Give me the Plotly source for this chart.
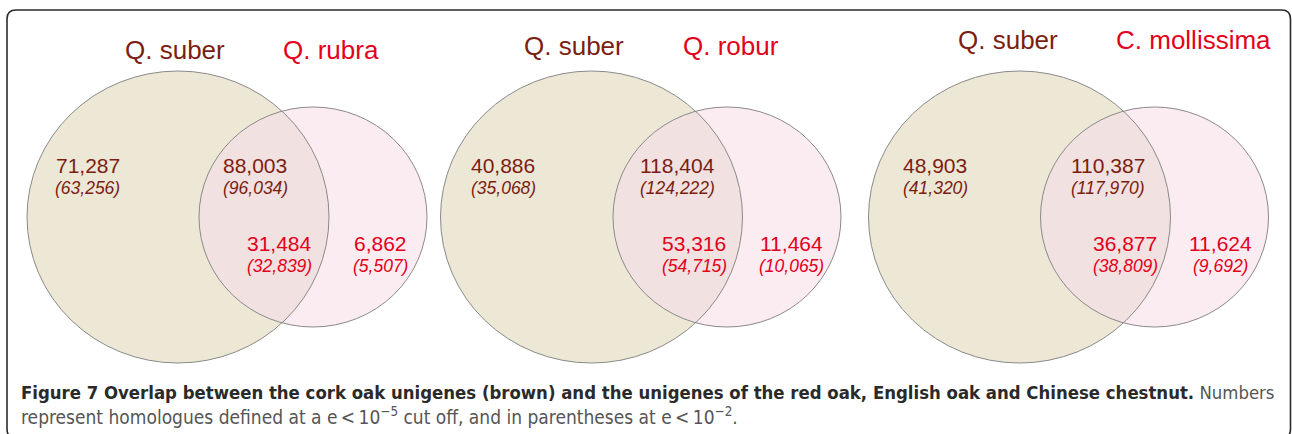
import numpy as np
import plotly.graph_objects as go

# ---------------- data ----------------
set_a_names = ["Q. suber", "Q. suber", "Q. suber"]
set_b_names = ["Q. rubra", "Q. robur", "C. mollissima"]
a_only = [71287, 40886, 48903]
a_only_e2 = [63256, 35068, 41320]
shared_a = [88003, 118404, 110387]
shared_a_e2 = [96034, 124222, 117970]
shared_b = [31484, 53316, 36877]
shared_b_e2 = [32839, 54715, 38809]
b_only = [6862, 11464, 11624]
b_only_e2 = [5507, 10065, 9692]

# ---------------- layout geometry (pixels) ----------------
W, H = 1292, 434
big_cx = [178, 591.5, 1019.5]
small_cx = [313, 727, 1154.5]
cy = 217
big_r = (151, 146)
small_r = (114, 110)
title_a_x = [175, 574, 1007.5]
title_b_x = [331, 731, 1193]
title_y = [50, 46, 40]
a_only_x = [87.5, 503, 935]
shared_a_x = [255, 677, 1108]
shared_b_x = [279, 694, 1125]
b_only_x = [380, 791, 1220]
row1_y, row1p_y = 165, 188
row2_y, row2p_y = 243, 266

BROWN = "#7b1e12"
RED = "#e3001b"
BEIGE = "#ede7d6"
PINK = "#fbecf2"
LENS = "#f1e1e0"
EDGE = "#8a8a8a"
FONT = "Arial, Liberation Sans, sans-serif"

fig = go.Figure()
fig.add_trace(go.Scatter(x=[0, W], y=[0, H], mode="markers",
                         marker=dict(opacity=0), hoverinfo="skip", showlegend=False))

shapes = []
annotations = []


def fmt(v):
    return f"{v:,}"


def ellipse_pts(cx, rx, ry, n=400):
    t = np.linspace(0, 2 * np.pi, n, endpoint=False)
    return cx + rx * np.cos(t), cy + ry * np.sin(t)


for i in range(3):
    bx, sx = big_cx[i], small_cx[i]
    # fills
    shapes.append(dict(type="circle", xref="x", yref="y",
                       x0=bx - big_r[0], x1=bx + big_r[0], y0=cy - big_r[1], y1=cy + big_r[1],
                       fillcolor=BEIGE, line=dict(width=0), layer="below"))
    shapes.append(dict(type="circle", xref="x", yref="y",
                       x0=sx - small_r[0], x1=sx + small_r[0], y0=cy - small_r[1], y1=cy + small_r[1],
                       fillcolor=PINK, line=dict(width=0), layer="below"))
    # lens (intersection)
    x1, y1 = ellipse_pts(bx, *big_r)
    x2, y2 = ellipse_pts(sx, *small_r)
    in2 = ((x1 - sx) / small_r[0]) ** 2 + ((y1 - cy) / small_r[1]) ** 2 <= 1
    in1 = ((x2 - bx) / big_r[0]) ** 2 + ((y2 - cy) / big_r[1]) ** 2 <= 1
    px = np.concatenate([x1[in2], x2[in1]])
    py = np.concatenate([y1[in2], y2[in1]])
    mx, my = px.mean(), py.mean()
    order = np.argsort(np.arctan2(py - my, px - mx))
    px, py = px[order], py[order]
    path = "M " + " L ".join(f"{a:.2f},{b:.2f}" for a, b in zip(px, py)) + " Z"
    shapes.append(dict(type="path", xref="x", yref="y", path=path,
                       fillcolor=LENS, line=dict(width=0), layer="below"))
    # outlines
    for (cx_, r_) in ((bx, big_r), (sx, small_r)):
        shapes.append(dict(type="circle", xref="x", yref="y",
                           x0=cx_ - r_[0], x1=cx_ + r_[0], y0=cy - r_[1], y1=cy + r_[1],
                           fillcolor="rgba(0,0,0,0)", line=dict(color=EDGE, width=1), layer="above"))

    # titles
    annotations.append(dict(x=title_a_x[i], y=title_y[i], text=set_a_names[i],
                            font=dict(family=FONT, size=26, color=BROWN)))
    annotations.append(dict(x=title_b_x[i], y=title_y[i], text=set_b_names[i],
                            font=dict(family=FONT, size=26, color=RED)))
    # numbers
    for xs, v, ve, yy, yyp, col in (
        (a_only_x, a_only, a_only_e2, row1_y, row1p_y, BROWN),
        (shared_a_x, shared_a, shared_a_e2, row1_y, row1p_y, BROWN),
        (shared_b_x, shared_b, shared_b_e2, row2_y, row2p_y, RED),
        (b_only_x, b_only, b_only_e2, row2_y, row2p_y, RED),
    ):
        annotations.append(dict(x=xs[i], y=yy, text=fmt(v[i]),
                                font=dict(family=FONT, size=21, color=col)))
        annotations.append(dict(x=xs[i], y=yyp, text="<i>(" + fmt(ve[i]) + ")</i>",
                                font=dict(family=FONT, size=17.5, color=col)))

for a in annotations:
    a.update(xref="x", yref="y", showarrow=False, xanchor="center", yanchor="middle")

# frame
r = 9
x0, x1, y0, y1 = 7, 1290.5, 10, 438
frame = (f"M {x0+r},{y0} L {x1-r},{y0} Q {x1},{y0} {x1},{y0+r} L {x1},{y1-r} "
         f"Q {x1},{y1} {x1-r},{y1} L {x0+r},{y1} Q {x0},{y1} {x0},{y1-r} L {x0},{y0+r} "
         f"Q {x0},{y0} {x0+r},{y0} Z")
shapes.append(dict(type="path", xref="x", yref="y", path=frame,
                   fillcolor="rgba(0,0,0,0)", line=dict(color="#2b2b2b", width=1.6), layer="above"))

CAP_FONT = "Liberation Sans Narrow, DejaVu Sans Condensed, Arial, sans-serif"
cap1 = ("<b>Figure 7 Overlap between the cork oak unigenes (brown) and the unigenes of the red oak, "
        "English oak and Chinese chestnut.</b> <span style='color:#555555'>Numbers</span>")
cap2 = ("represent homologues defined at a e\u2009&lt;\u200910<sup>\u22125</sup> cut off, "
        "and in parentheses at e\u2009&lt;\u200910<sup>\u22122</sup>.")
annotations.append(dict(x=19, y=392, xref="x", yref="y", text=cap1, showarrow=False,
                        xanchor="left", yanchor="middle",
                        font=dict(family=CAP_FONT, size=18.4, color="#2a2a2a")))
annotations.append(dict(x=19, y=416, xref="x", yref="y", text=cap2, showarrow=False,
                        xanchor="left", yanchor="middle",
                        font=dict(family=CAP_FONT, size=19, color="#555555")))

fig.update_layout(
    width=W, height=H, margin=dict(l=0, r=0, t=0, b=0),
    paper_bgcolor="white", plot_bgcolor="white",
    xaxis=dict(range=[0, W], visible=False, fixedrange=True),
    yaxis=dict(range=[H, 0], visible=False, fixedrange=True),
    shapes=shapes, annotations=annotations, showlegend=False,
)
fig.write_html("out.html", config={"displayModeBar": False},
               post_script="document.body.style.margin='0';document.body.style.overflow='hidden';")
